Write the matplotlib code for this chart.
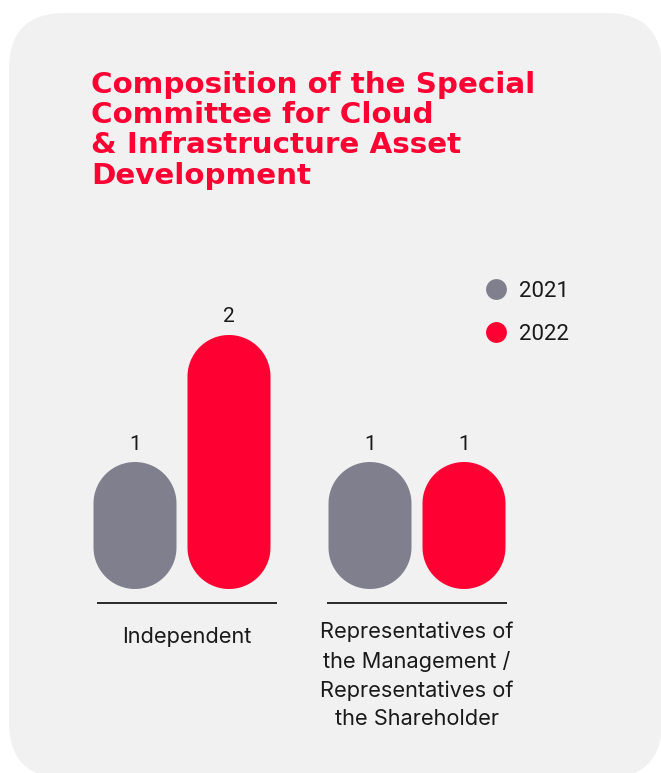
import matplotlib
matplotlib.use("Agg")
import numpy as np
import matplotlib.pyplot as plt
from matplotlib.patches import FancyBboxPatch, Polygon
from matplotlib.lines import Line2D

# ---- data ----
categories = ["Independent",
              "Representatives of\nthe Management /\nRepresentatives of\nthe Shareholder"]
years = ["2021", "2022"]
values_2021 = [1, 1]
values_2022 = [2, 1]
title = "Composition of the Special\nCommittee for Cloud\n& Infrastructure Asset\nDevelopment"

# ---- style ----
RED = "#ff0033"
GREY = "#807f8e"
CARD = "#f1f1f1"
INK = "#1a1a1a"

W, H = 661, 773
fig = plt.figure(figsize=(W / 100, H / 100), dpi=100)
fig.patch.set_facecolor("white")

# background layer in pixel coordinates
bg = fig.add_axes([0, 0, 1, 1])
bg.set_xlim(0, W)
bg.set_ylim(H, 0)
bg.axis("off")
bg.add_patch(FancyBboxPatch((9, 13), 653, 765,
                            boxstyle="round,pad=0,rounding_size=56",
                            fc=CARD, ec="none"))
bg.text(91, 183.5, title, color=RED, fontsize=21.2, fontweight="bold",
        family="DejaVu Sans", ha="left", va="baseline", linespacing=1.1)

# ---- chart axes ----
ax_left, ax_right, ax_base, ax_top = 80, 620, 589, 280
ax = fig.add_axes([ax_left / W, 1 - ax_base / H,
                   (ax_right - ax_left) / W, (ax_base - ax_top) / H])
ax.patch.set_alpha(0)
ax.axis("off")

px_per_x = 235.0      # pixels per category step
px_per_y = 127.0      # pixels per unit of value
g0 = 182.0            # pixel x of the first category
ax.set_xlim((ax_left - g0) / px_per_x, (ax_right - g0) / px_per_x)
ax.set_ylim(0, (ax_base - ax_top) / px_per_y)

bar_w = 83 / px_per_x
rx = bar_w / 2                    # end-cap radius in x data units
ry = 41.5 / px_per_y              # same radius in y data units
offset = 0.2


def pill(xc, v):
    """Bar outline from 0 to v with semicircular ends."""
    t_top = np.linspace(0, np.pi, 60)
    t_bot = np.linspace(np.pi, 2 * np.pi, 60)
    top = np.column_stack([xc + rx * np.cos(t_top), v - ry + ry * np.sin(t_top)])
    bot = np.column_stack([xc + rx * np.cos(t_bot), ry + ry * np.sin(t_bot)])
    return np.vstack([top, bot])


for i, cat in enumerate(categories):
    for j, (vals, col) in enumerate([(values_2021, GREY), (values_2022, RED)]):
        v = vals[i]
        xc = i + (offset if j else -offset)
        ax.add_patch(Polygon(pill(xc, v), closed=True, fc=col, ec="none"))
        ax.annotate(str(v), (xc, v), xytext=(0, 18), textcoords="offset pixels",
                    ha="center", va="center", fontsize=15, color=INK,
                    family="Roboto")

# separators and category labels
sep_shift = [5, 0]
label_drop = [38, 33]
half = 90 / px_per_x
for i, cat in enumerate(categories):
    c = i + sep_shift[i] / px_per_x
    ax.plot([c - half, c + half], [-14 / px_per_y] * 2,
            color=INK, lw=1.3, clip_on=False, solid_capstyle="butt")
    ax.text(c, -label_drop[i] / px_per_y, cat, ha="center", va="top",
            fontsize=15.7, color=INK, family="Inter", linespacing=1.51,
            clip_on=False)

# ---- legend ----
handles = [Line2D([], [], marker="o", ls="none", ms=15, mfc=c, mec="none")
           for c in (GREY, RED)]
leg = fig.legend(handles, years, loc="upper left",
                 bbox_to_anchor=(485 / W, 1 - 281 / H), frameon=False,
                 prop={"family": "Roboto", "size": 16},
                 handlelength=1.0, handletextpad=0.55, labelspacing=0.985,
                 borderpad=0, borderaxespad=0)
for t in leg.get_texts():
    t.set_color(INK)

fig.savefig("out.png", dpi=100, facecolor="white")
